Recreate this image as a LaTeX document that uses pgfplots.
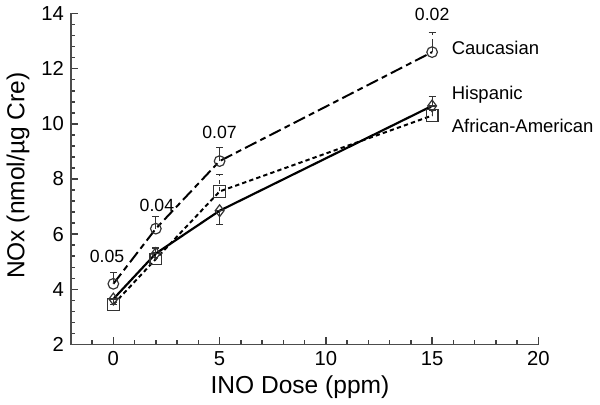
\documentclass[border=0pt]{standalone}
\usepackage{fontspec}
\setmainfont{Liberation Sans}
\usepackage{pgfplots}
\pgfplotsset{compat=1.18}
\begin{document}
\begin{tikzpicture}
\begin{axis}[
  scale only axis,
  width=238pt, height=168.5pt,
  xmin=-2, xmax=20, ymin=2, ymax=14,
  axis x line*=bottom,
  axis y line*=left,
  axis line style={black!70, line width=0.7pt},
  xtick={0,5,10,15,20},
  ytick={2,4,6,8,10,12,14},
  minor xtick={-1,1,2,3,4,6,7,8,9,11,12,13,14,16,17,18,19},
  minor y tick num=4,
  major tick length=3.6pt,
  minor tick length=2.2pt,
  tick style={black!75, line width=0.8pt},
  /pgf/number format/assume math mode=true,
  ticklabel style={font=\fontsize{10.3}{11}\selectfont},
  every axis x label/.style={at={(axis description cs:0.49,-0.128)},anchor=center},
  every axis y label/.style={at={(axis description cs:-0.113,0.51)},anchor=center,rotate=90},
  label style={font=\fontsize{12.5}{14}\selectfont},
  xlabel={INO Dose (ppm)},
  ylabel={NOx (nmol/µg Cre)},
  clip=false,
]
% Caucasian
\addplot[black, line width=1pt, dash pattern=on 6.5pt off 2.2pt on 3pt off 2.2pt,
  mark=o, mark size=2.7pt, mark options={solid, black!80, line width=0.6pt},
  error bars/.cd, y dir=plus, y explicit,
  error bar style={black!80, line width=0.6pt},
  error mark options={black!80, line width=0.6pt, mark size=1.8pt, rotate=90}]
  table[x=x, y=y, y error=e] {
x y e
0 4.2 0.42
2 6.2 0.45
5 8.65 0.5
15 12.6 0.7
};
% African-American
\addplot[black, line width=1pt, dash pattern=on 2.2pt off 1.6pt,
  mark=square, mark size=3pt, mark options={solid, black!80, line width=0.6pt},
  error bars/.cd, y dir=plus, y explicit,
  error bar style={black!80, line width=0.6pt},
  error mark options={black!80, line width=0.6pt, mark size=1.8pt, rotate=90}]
  table[x=x, y=y, y error=e] {
x y e
0 3.45 0.2
2 5.1 0.25
5 7.55 0.6
15 10.3 0.2
};
% Hispanic
\addplot[black, line width=1.1pt, solid,
  mark=diamond, mark size=3pt, mark options={solid, black!80, line width=0.6pt},
  error bars/.cd, y dir=both, y explicit,
  error bar style={black!80, line width=0.6pt},
  error mark options={black!80, line width=0.6pt, mark size=1.8pt, rotate=90}]
  table[x=x, y=y, y error plus=ep, y error minus=em] {
x y ep em
0 3.65 0 0.2
2 5.3 0.2 0
5 6.85 0 0.5
15 10.65 0.35 0
};
\node[font=\fontsize{9}{10}\selectfont] at (axis cs:-0.3,5.2) {0.05};
\node[font=\fontsize{9}{10}\selectfont] at (axis cs:2.05,7.05) {0.04};
\node[font=\fontsize{9}{10}\selectfont] at (axis cs:5.0,9.7) {0.07};
\node[font=\fontsize{9}{10}\selectfont] at (axis cs:15.0,13.95) {0.02};
\node[anchor=west, font=\fontsize{9.4}{11}\selectfont] at (axis cs:15.6,12.74) {Caucasian};
\node[anchor=west, font=\fontsize{9.4}{11}\selectfont] at (axis cs:15.6,11.04) {Hispanic};
\node[anchor=west, font=\fontsize{9.4}{11}\selectfont] at (axis cs:15.6,9.94) {African-American};
\end{axis}
\path (-35pt,-30.5pt) rectangle (265pt,175pt);
\end{tikzpicture}
\end{document}
